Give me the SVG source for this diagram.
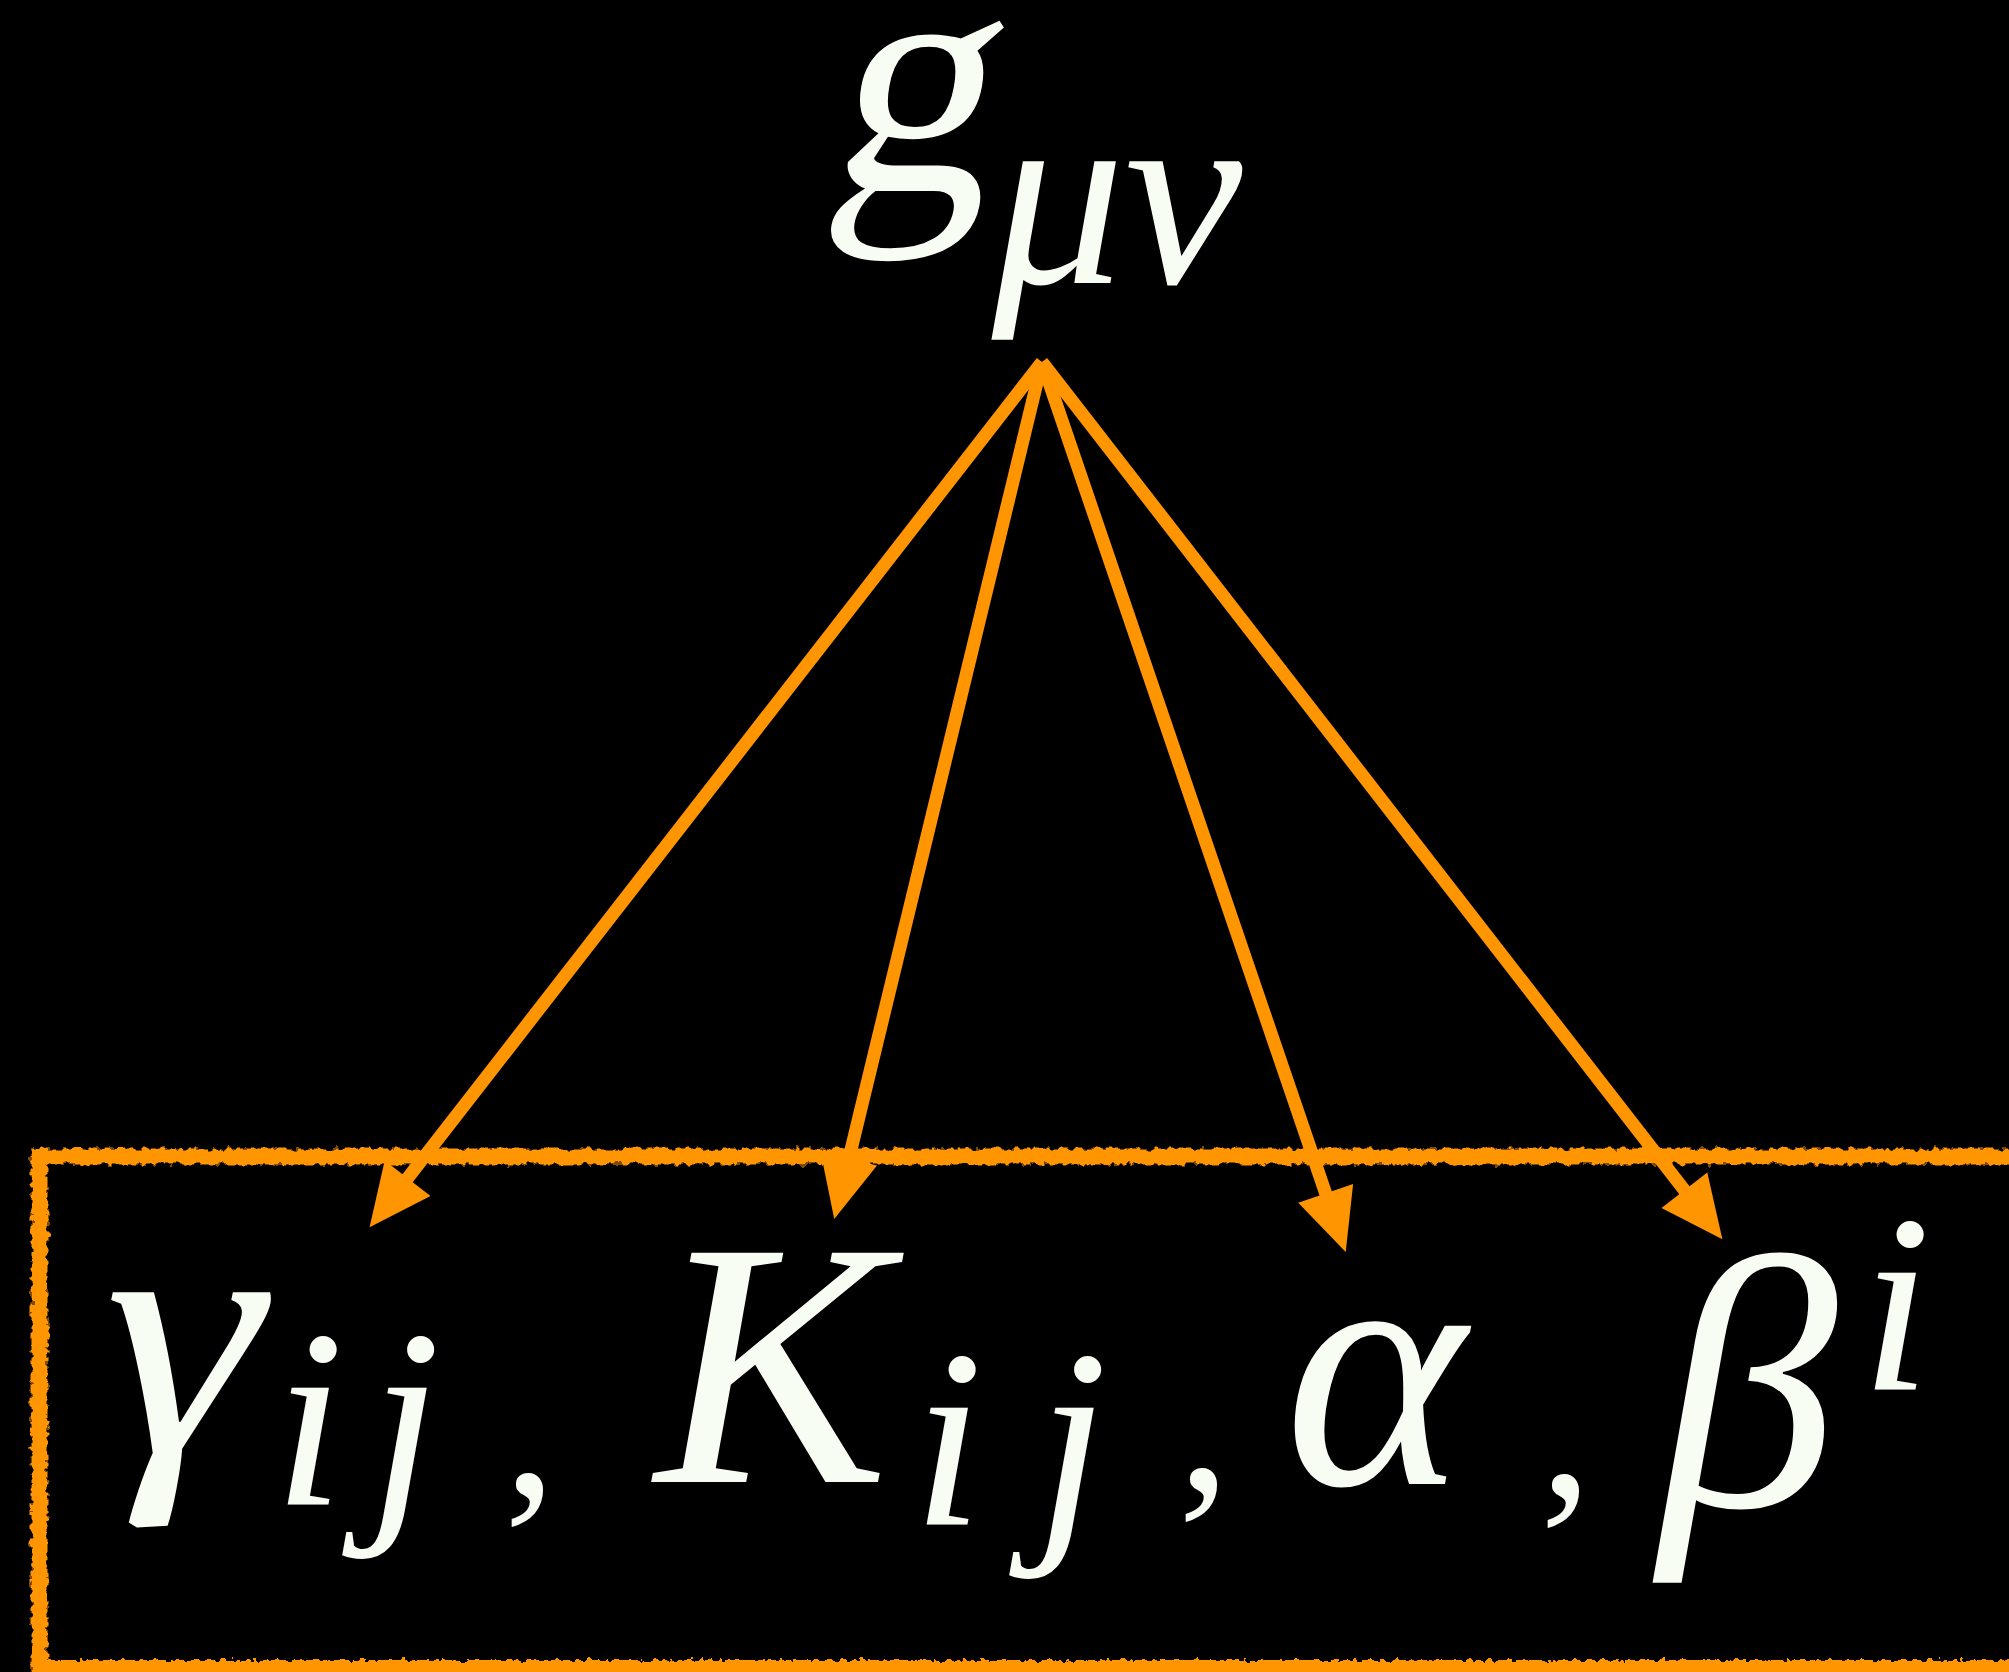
<svg xmlns="http://www.w3.org/2000/svg" width="2009" height="1672" viewBox="0 0 2009 1672">
<style>
text{font-family:'Liberation Serif','Times New Roman',Tinos,Times,serif}
.m{fill:#f8fdf4;text-anchor:middle}
.it{font-style:italic}
.arrow{stroke:#ff9500;stroke-width:13;fill:none}
.box{fill:none;stroke:#ff9500;stroke-width:16}
</style>
<defs>
<marker id="ah" markerUnits="userSpaceOnUse" viewBox="0 -30 64 60" refX="1" refY="0" markerWidth="64" markerHeight="60" orient="auto" overflow="visible">
<path d="M0,-29 L62,0 L0,29 z" fill="#ff9500"/>
</marker>
<filter id="rough" filterUnits="userSpaceOnUse" x="0" y="1100" width="2009" height="572">
<feTurbulence type="fractalNoise" baseFrequency="0.15" numOctaves="2" seed="3" result="n"/>
<feDisplacementMap in="SourceGraphic" in2="n" scale="9" xChannelSelector="R" yChannelSelector="G"/>
</filter>
</defs>
<rect width="2009" height="1672" fill="#000"/>
<g id="box">
<rect class="box" x="39.5" y="1156.5" width="2100" height="511.5" filter="url(#rough)"/>
</g>
<g id="top-node">
<text class="m" font-size="330" transform="translate(906,190) skewX(-10)" x="0" y="0" fill="#fff">g</text>
<text class="m it" font-size="265" x="1117" y="283" fill="#fff">μν</text>
</g>
<g id="connectors">
<line class="arrow" x1="1042" y1="362" x2="407" y2="1179" marker-end="url(#ah)"/>
<line class="arrow" x1="1042" y1="362" x2="848.6" y2="1159.7" marker-end="url(#ah)"/>
<line class="arrow" x1="1042" y1="362" x2="1326" y2="1194.3" marker-end="url(#ah)"/>
<line class="arrow" x1="1042" y1="362" x2="1685" y2="1191" marker-end="url(#ah)"/>
</g>
<g id="gamma">
<text class="m it" font-size="340" transform="translate(183,1453) scale(1.18,1.03)" x="0" y="0">γ</text>
<text class="m it" font-size="255" x="309" y="1505">i</text>
<text class="m it" font-size="255" x="405" y="1505">j</text>
</g>
<text class="m" font-size="210" x="530" y="1495">,</text>
<g id="K">
<text class="m it" font-size="350" x="772" y="1482">K</text>
<text class="m it" font-size="255" x="948" y="1525">i</text>
<text class="m it" font-size="255" x="1072" y="1525">j</text>
</g>
<text class="m" font-size="210" x="1204" y="1490">,</text>
<g id="alpha">
<text class="m it" font-size="345" x="1375" y="1484">α</text>
</g>
<text class="m" font-size="210" x="1566" y="1496">,</text>
<g id="beta">
<text class="m it" font-size="360" x="1748" y="1506">β</text>
<text class="m it" font-size="255" x="1896" y="1390">i</text>
</g>
</svg>
